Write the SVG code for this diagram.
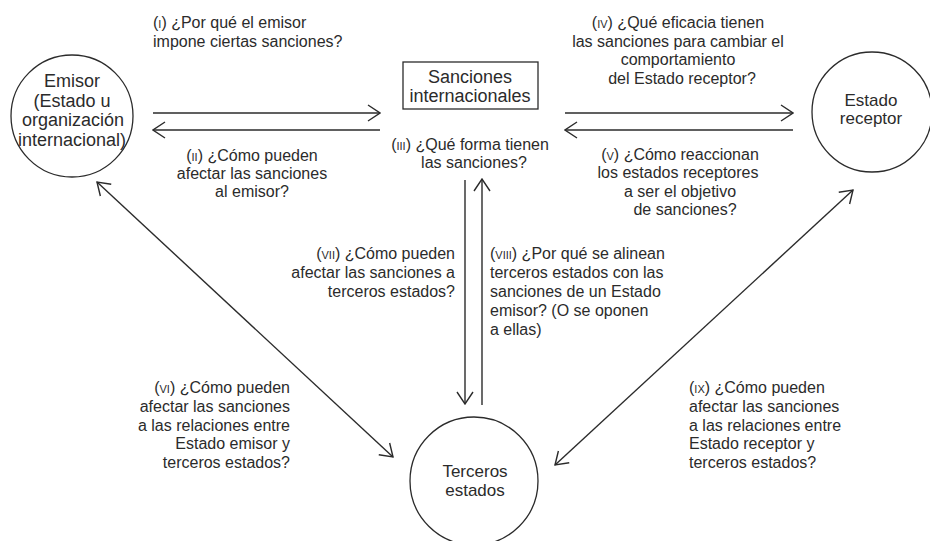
<svg xmlns="http://www.w3.org/2000/svg" width="930" height="541" viewBox="0 0 930 541">
<defs>
<style>
text{font-family:"Liberation Sans","Noto Sans",sans-serif;font-size:16px;fill:#2b2b2b}
.rn{font-size:11px}
.m{text-anchor:middle}
.e{text-anchor:end}
.nt{font-size:17px;text-anchor:middle}
.node{fill:none;stroke:#2b2b2b;stroke-width:1.3}
.c{fill:none;stroke:#2b2b2b;stroke-width:1.4;marker-end:url(#ah)}
.b{marker-start:url(#ah)}
</style>
<marker id="ah" viewBox="0 0 14 18" refX="13" refY="9" markerWidth="14" markerHeight="18" markerUnits="userSpaceOnUse" orient="auto-start-reverse">
<path d="M1,1 L13,9 L1,17" fill="none" stroke="#2b2b2b" stroke-width="1.4"/>
</marker>
</defs>
<rect width="930" height="541" fill="#fff"/>
<g id="connectors">
<path class="c" d="M153,113 H380"/>
<path class="c" d="M380,130 H153"/>
<path class="c" d="M565,113 H793"/>
<path class="c" d="M793,130 H565"/>
<path class="c" d="M465,180 V404"/>
<path class="c" d="M482,405 V179"/>
<path class="c b" d="M97,182 L393,457"/>
<path class="c b" d="M853,190 L555,465"/>
</g>
<g id="emisor">
<circle class="node" cx="72" cy="116" r="61"/>
<text class="nt" x="72" y="87" style="font-size:18px">Emisor</text>
<text class="nt" x="72" y="107" style="font-size:18px">(Estado u</text>
<text class="nt" x="73" y="126" style="font-size:18px">organización</text>
<text class="nt" x="72" y="146" style="font-size:18px">internacional)</text>
</g>
<g id="sanciones">
<rect class="node" x="403" y="62" width="135" height="47"/>
<text class="nt" x="470" y="83" style="font-size:18px">Sanciones</text>
<text class="nt" x="470" y="102" style="font-size:18px">internacionales</text>
</g>
<g id="receptor">
<circle class="node" cx="872" cy="112" r="60"/>
<text class="nt" x="871" y="106">Estado</text>
<text class="nt" x="871" y="124">receptor</text>
</g>
<g id="terceros">
<circle class="node" cx="474" cy="481" r="64"/>
<text class="nt" x="475" y="477">Terceros</text>
<text class="nt" x="475" y="496">estados</text>
</g>
<g id="labels">
<text x="153" y="28">(<tspan class="rn">I</tspan>) ¿Por qué el emisor</text>
<text x="153" y="47">impone ciertas sanciones?</text>
<text class="m" x="252" y="161">(<tspan class="rn">II</tspan>) ¿Cómo pueden</text>
<text class="m" x="252" y="179">afectar las sanciones</text>
<text class="m" x="252" y="197">al emisor?</text>
<text class="m" x="470" y="150">(<tspan class="rn">III</tspan>) ¿Qué forma tienen</text>
<text class="m" x="474" y="168">las sanciones?</text>
<text class="m" x="678" y="28">(<tspan class="rn">IV</tspan>) ¿Qué eficacia tienen</text>
<text class="m" x="678" y="47">las sanciones para cambiar el</text>
<text class="m" x="678" y="65">comportamiento</text>
<text class="m" x="682" y="84">del Estado receptor?</text>
<text class="m" x="680" y="160">(<tspan class="rn">V</tspan>) ¿Cómo reaccionan</text>
<text class="m" x="678" y="178">los estados receptores</text>
<text class="m" x="680" y="197">a ser el objetivo</text>
<text class="m" x="685" y="215">de sanciones?</text>
<text class="e" x="290" y="393">(<tspan class="rn">VI</tspan>) ¿Cómo pueden</text>
<text class="e" x="290" y="412">afectar las sanciones</text>
<text class="e" x="290" y="431">a las relaciones entre</text>
<text class="e" x="290" y="449">Estado emisor y</text>
<text class="e" x="290" y="468">terceros estados?</text>
<text class="e" x="455" y="259">(<tspan class="rn">VII</tspan>) ¿Cómo pueden</text>
<text class="e" x="455" y="278">afectar las sanciones a</text>
<text class="e" x="455" y="297">terceros estados?</text>
<text x="490" y="259">(<tspan class="rn">VIII</tspan>) ¿Por qué se alinean</text>
<text x="490" y="278">terceros estados con las</text>
<text x="490" y="297">sanciones de un Estado</text>
<text x="490" y="316">emisor? (O se oponen</text>
<text x="490" y="335">a ellas)</text>
<text x="689" y="393">(<tspan class="rn">IX</tspan>) ¿Cómo pueden</text>
<text x="689" y="412">afectar las sanciones</text>
<text x="689" y="431">a las relaciones entre</text>
<text x="689" y="449">Estado receptor y</text>
<text x="689" y="468">terceros estados?</text>
</g>
</svg>
